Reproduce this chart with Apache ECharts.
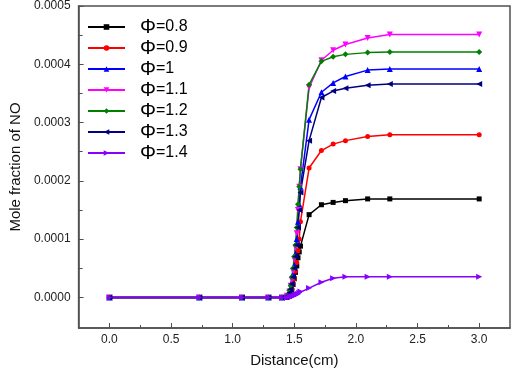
<!DOCTYPE html>
<html><head><meta charset="utf-8">
<script src="https://cdn.jsdelivr.net/npm/echarts@6/dist/echarts.min.js"></script>
<style>html,body{margin:0;padding:0;background:#fff}#c{width:512px;height:373px}</style>
</head><body><div id="c"></div>
<script>
const distance = [0, 0.73, 1.075, 1.29, 1.40, 1.44, 1.46, 1.47, 1.48, 1.49, 1.50, 1.51, 1.52, 1.53, 1.54, 1.55, 1.62, 1.72, 1.815, 1.915, 2.095, 2.275, 3.0];
const seriesNames = ['Φ=0.8', 'Φ=0.9', 'Φ=1', 'Φ=1.1', 'Φ=1.2', 'Φ=1.3', 'Φ=1.4'];
const phi08 = [0,0,0,0,0, 0, 0.000002, 0.000006, 0.000012, 0.000022, 0.000032, 0.000043, 0.000054, 0.000068, 0.000078, 0.000088, 0.000142, 0.000159, 0.000163, 0.000166, 0.000169, 0.000169, 0.000169];
const phi09 = [0,0,0,0,0, 0.000001, 0.000004, 0.000008, 0.000014, 0.000022, 0.000032, 0.000045, 0.00006, 0.00008, 0.0001, 0.00013, 0.000222, 0.000252, 0.000263, 0.000269, 0.000276, 0.000279, 0.000279];
const phi10 = [0,0,0,0,0, 0.000002, 0.000008, 0.000015, 0.000025, 0.00004, 0.000055, 0.000075, 0.0001, 0.00013, 0.00016, 0.00019, 0.000305, 0.000352, 0.000368, 0.000379, 0.00039, 0.000392, 0.000392];
const phi11 = [0,0,0,0,0, 0.000003, 0.00001, 0.00002, 0.00003, 0.000045, 0.000065, 0.000085, 0.00011, 0.00015, 0.00019, 0.00022, 0.00036, 0.000407, 0.000424, 0.000434, 0.000445, 0.000451, 0.000451];
const phi12 = [0,0,0,0,0, 0.000003, 0.000012, 0.00002, 0.000035, 0.00005, 0.00007, 0.00009, 0.00012, 0.00016, 0.00019, 0.00022, 0.000365, 0.000405, 0.000413, 0.000417, 0.00042, 0.000421, 0.000421];
const phi13 = [0,0,0,0,0, 0.000002, 0.000008, 0.000014, 0.000023, 0.000035, 0.00005, 0.00007, 0.00009, 0.00012, 0.00015, 0.00018, 0.000269, 0.000343, 0.000354, 0.000359, 0.000364, 0.000366, 0.000366];
const phi14 = [0,0,0,0,0, 0, 0.0000005, 0.000001, 0.0000015, 0.000002, 0.000003, 0.000004, 0.000005, 0.000006, 0.000008, 0.00001, 0.000016, 0.000026, 0.000033, 0.0000355, 0.0000356, 0.0000356, 0.0000356];
const xTickLabels = [0, 0.5, 1.0, 1.5, 2.0, 2.5, 3.0];
const xMinorTicks = [0.25, 0.75, 1.25, 1.75, 2.25, 2.75];
const yTickLabels = [0, 0.0001, 0.0002, 0.0003, 0.0004, 0.0005];
const yMinorTicks = [0.00005, 0.00015, 0.00025, 0.00035, 0.00045];

const allValues = [phi08, phi09, phi10, phi11, phi12, phi13, phi14];
const colors = ['#000000', '#ff0000', '#0000ff', '#ff00ff', '#008000', '#000080', '#8800ff'];
const symbols = ['rect', 'circle', 'triangle', 'triangle', 'diamond', 'triangle', 'triangle'];
const rotations = [0, 0, 0, 180, 0, 90, -90];
const sizes = [5, 5, 6, 6, 6, 6, 6];

const chart = echarts.init(document.getElementById('c'), null, {renderer: 'canvas'});
const axisColor = '#505050';
const font = 'Arial, "Liberation Sans", sans-serif';
chart.setOption({
  animation: false,
  grid: {left: 71, top: 6, right: 2, bottom: 40, show: true, borderColor: axisColor, borderWidth: 1.5, containLabel: false},
  legend: {
    orient: 'vertical', left: 82, top: 12, itemWidth: 37, itemHeight: 7, itemGap: 1,
    data: seriesNames,
    formatter: function (n) { return '{p|Φ}{t|' + n.slice(1) + '}'; },
    textStyle: {padding: [0, 0, 0, 10], rich: {p: {fontSize: 20, lineHeight: 18, fontFamily: font, color: '#000'}, t: {fontSize: 16, lineHeight: 18, fontFamily: font, color: '#000'}}}
  },
  xAxis: [{
    type: 'value', min: -0.25, max: 3.25,
    name: 'Distance(cm)', nameLocation: 'middle', nameGap: 25,
    nameTextStyle: {fontSize: 15, fontFamily: font, color: '#111'},
    axisLine: {show: true, onZero: false, lineStyle: {color: axisColor, width: 1.5}},
    axisTick: {show: true, inside: true, length: 5, customValues: xTickLabels, lineStyle: {color: axisColor}},
    axisLabel: {customValues: xTickLabels, formatter: v => v.toFixed(1), fontSize: 12, fontFamily: font, color: '#222', margin: 6},
    splitLine: {show: false}
  }, {
    type: 'value', min: -0.25, max: 3.25, position: 'bottom', gridIndex: 0,
    axisLine: {show: false, onZero: false},
    axisTick: {show: true, inside: true, length: 3, customValues: xMinorTicks, lineStyle: {color: axisColor}},
    axisLabel: {show: false}, splitLine: {show: false}
  }],
  yAxis: [{
    type: 'value', min: -0.0000525, max: 0.0005,
    name: 'Mole fraction of NO', nameLocation: 'middle', nameGap: 49,
    nameTextStyle: {fontSize: 15, fontFamily: font, color: '#111'},
    axisLine: {show: true, onZero: false, lineStyle: {color: axisColor, width: 1.5}},
    axisTick: {show: true, inside: true, length: 5, customValues: yTickLabels, lineStyle: {color: axisColor}},
    axisLabel: {customValues: yTickLabels, formatter: v => v.toFixed(4), fontSize: 12, fontFamily: font, color: '#222', margin: 8},
    splitLine: {show: false}
  }, {
    type: 'value', min: -0.0000525, max: 0.0005, position: 'left', gridIndex: 0,
    axisLine: {show: false, onZero: false},
    axisTick: {show: true, inside: true, length: 4, customValues: yMinorTicks, lineStyle: {color: axisColor}},
    axisLabel: {show: false}, splitLine: {show: false}
  }],
  series: allValues.map((vals, i) => ({
    name: seriesNames[i], type: 'line',
    data: distance.map((x, j) => [x, vals[j]]),
    symbol: symbols[i], symbolRotate: rotations[i], symbolSize: sizes[i],
    showAllSymbol: true,
    lineStyle: {color: colors[i], width: 1.5},
    itemStyle: {color: colors[i]}
  }))
});
</script>
</body></html>
